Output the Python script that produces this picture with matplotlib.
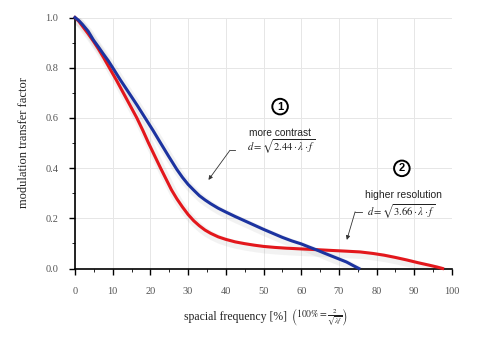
import matplotlib
matplotlib.use("Agg")
import matplotlib.pyplot as plt
import matplotlib.transforms as mtransforms
from matplotlib.ticker import MultipleLocator, FormatStrFormatter

# Data
blue_x = [0, 1, 2, 3.5, 4.9, 6.2, 7.5, 8.8, 10, 12, 14.3, 16.5, 18.6, 20.7, 22.7,
          24.8, 27, 28.5, 30, 31.5, 33, 34.5, 36, 38, 40, 42.5, 45, 47.5, 50,
          52.5, 55, 57.5, 60, 62, 64.1, 66, 68, 70, 72, 74, 75.3]
blue_y = [1.0, 0.988, 0.972, 0.945, 0.91, 0.883, 0.855, 0.828, 0.8, 0.752, 0.7,
          0.65, 0.6, 0.55, 0.5, 0.448, 0.395, 0.363, 0.335, 0.312, 0.29, 0.273,
          0.258, 0.24, 0.225, 0.207, 0.19, 0.173, 0.156, 0.14, 0.124, 0.11,
          0.098, 0.086, 0.074, 0.062, 0.05, 0.038, 0.026, 0.01, 0.0]

red_x = [0, 1, 2, 3.5, 4.9, 6.2, 7.6, 9.1, 11, 12.8, 14.6, 16.4, 18, 19.5, 21.1,
         22.7, 24.2, 25.6, 27, 28.5, 30, 31.5, 33, 34.5, 36, 38, 40, 42.5, 45,
         47.5, 50, 53, 56, 60, 64.1, 68, 72, 75.6, 79, 82, 85, 88, 91, 94, 96,
         97.5]
red_y = [1.0, 0.985, 0.965, 0.935, 0.905, 0.875, 0.84, 0.8, 0.75, 0.7, 0.65, 0.6,
         0.55, 0.5, 0.45, 0.4, 0.355, 0.313, 0.278, 0.245, 0.215, 0.19, 0.17,
         0.153, 0.14, 0.126, 0.116, 0.106, 0.099, 0.093, 0.088, 0.084, 0.081,
         0.078, 0.075, 0.072, 0.069, 0.066, 0.06, 0.053, 0.044, 0.034, 0.023,
         0.013, 0.006, 0.0]

x_ticks = [0, 10, 20, 30, 40, 50, 60, 70, 80, 90, 100]
y_ticks = [0.0, 0.2, 0.4, 0.6, 0.8, 1.0]

plt.rcParams['mathtext.fontset'] = 'stix'

fig = plt.figure(figsize=(4.82, 3.43), dpi=100)
ax = fig.add_axes([75/482, 74.5/343, 377/482, 251/343])

ax.set_xlim(0, 100)
ax.set_ylim(0, 1.0)
ax.set_xticks(x_ticks)
ax.set_yticks(y_ticks)
ax.xaxis.set_minor_locator(MultipleLocator(5))
ax.yaxis.set_minor_locator(MultipleLocator(0.1))
ax.yaxis.set_major_formatter(FormatStrFormatter('%.1f'))

for s in ['top', 'right']:
    ax.spines[s].set_visible(False)
for s in ['left', 'bottom']:
    ax.spines[s].set_linewidth(1.2)
    ax.spines[s].set_color('black')

ax.tick_params(which='major', direction='out', length=4, width=1.0,
               labelsize=7.5, labelcolor='#555555')
ax.tick_params(which='minor', direction='out', length=2, width=0.6)
ax.tick_params(axis='x', which='major', pad=9)
ax.tick_params(axis='y', which='major', pad=8)
for lab in ax.get_xticklabels() + ax.get_yticklabels():
    lab.set_family('Liberation Serif')

ax.grid(True, which='major', color='#e6e6e6', lw=0.7)
ax.set_axisbelow(True)

# soft shadow under curves
shadow = mtransforms.offset_copy(ax.transData, fig=fig, x=2, y=-3, units='dots')
ax.plot(blue_x, blue_y, color='#888888', lw=6, alpha=0.10, transform=shadow,
        solid_capstyle='round', solid_joinstyle='round')
ax.plot(red_x, red_y, color='#888888', lw=6, alpha=0.10, transform=shadow,
        solid_capstyle='round', solid_joinstyle='round')

ax.plot(red_x, red_y, color='#e3171c', lw=2.2, clip_on=False, zorder=3,
        solid_joinstyle='round')
ax.plot(blue_x, blue_y, color='#1c33a0', lw=2.2, clip_on=False, zorder=4,
        solid_joinstyle='round')

# annotations
circ = dict(boxstyle='circle,pad=0.25', fc='white', ec='black', lw=1.4)
ax.text(54.4, 0.645, '1', ha='center', va='center', fontsize=8, weight='bold',
        family='Liberation Sans', bbox=circ)
ax.text(54.4, 0.539, 'more contrast', ha='center', va='center', fontsize=7.3,
        family='Liberation Sans', color='#222222')
ax.text(54.6, 0.485, r'$d=\sqrt{2.44\cdot\lambda\cdot f}$', ha='center',
        va='center', fontsize=7.6, color='#222222')
ax.plot([42.4, 41.1], [0.471, 0.471], color='#333333', lw=0.6)
ax.annotate('', xy=(35.4, 0.353), xytext=(41.1, 0.471),
            arrowprops=dict(arrowstyle='-|>', color='#333333', lw=0.6,
                            mutation_scale=6, shrinkA=0, shrinkB=0))

ax.text(86.7, 0.399, '2', ha='center', va='center', fontsize=8, weight='bold',
        family='Liberation Sans', bbox=circ)
ax.text(87.1, 0.293, 'higher resolution', ha='center', va='center', fontsize=7.5,
        family='Liberation Sans', color='#222222')
ax.text(86.6, 0.226, r'$d=\sqrt{3.66\cdot\lambda\cdot f}$', ha='center',
        va='center', fontsize=7.6, color='#222222')
ax.plot([76.0, 74.3], [0.226, 0.226], color='#333333', lw=0.6)
ax.annotate('', xy=(72.1, 0.114), xytext=(74.3, 0.226),
            arrowprops=dict(arrowstyle='-|>', color='#333333', lw=0.6,
                            mutation_scale=6, shrinkA=0, shrinkB=0))

# axis labels
fig.text(24/482, 1 - 143/343, 'modulation transfer factor', rotation=90,
         ha='center', va='center', fontsize=9, family='Liberation Serif',
         color='#222222')
fig.text(235/482, 1 - 317/343, 'spacial frequency [%]', ha='center',
         va='center', fontsize=8.5, family='Liberation Serif', color='#222222')
fig.text(320/482, 1 - 317/343,
         r'$\left(100\%=\frac{2}{\sqrt{\lambda f}}\right)$', ha='center',
         va='center', fontsize=7, color='#222222')

fig.savefig('out.png', dpi=100, facecolor='white')
